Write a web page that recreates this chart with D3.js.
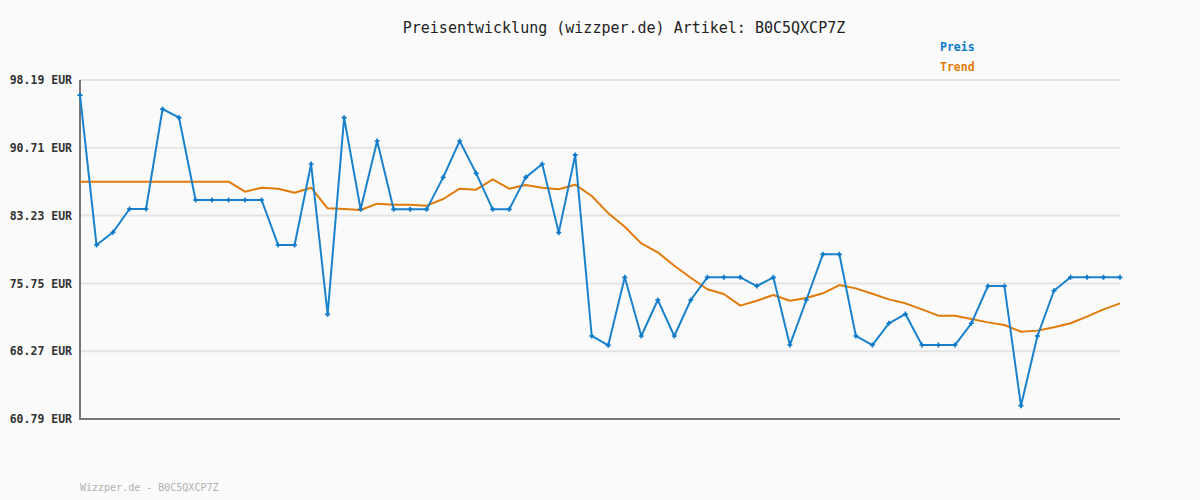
<!DOCTYPE html>
<html><head><meta charset="utf-8">
<script src="https://cdn.jsdelivr.net/npm/d3@7"></script>
<style>body{margin:0;background:#fafafa;}svg{display:block;}</style>
</head><body>
<svg id="c" width="1200" height="500"></svg>
<script>
const titleText = "Preisentwicklung (wizzper.de) Artikel: B0C5QXCP7Z";
const footerText = "Wizzper.de - B0C5QXCP7Z";
const seriesNames = ["Preis", "Trend"];
const yTicks = [60.79, 68.27, 75.75, 83.23, 90.71, 98.19];
const preis = [96.53,79.99,81.39,83.96,83.96,94.99,94.03,84.95,84.95,84.95,84.95,84.95,79.99,79.99,88.92,72.34,
  94.03,83.92,91.46,83.92,83.92,83.92,87.45,91.46,87.89,83.92,83.92,87.45,88.92,81.35,89.92,69.95,
  68.92,76.42,69.95,73.92,69.95,73.92,76.42,76.42,76.42,75.46,76.42,68.95,73.92,78.96,78.96,69.95,
  68.95,71.35,72.37,68.95,68.95,68.95,71.35,75.46,75.46,62.26,69.95,74.94,76.42,76.42,76.42,76.42];
const trend = [86.97,86.97,86.97,86.97,86.97,86.97,86.97,86.97,86.97,86.97,85.87,86.31,86.2,85.76,86.31,84.03,
  83.96,83.85,84.55,84.44,84.44,84.33,85.06,86.2,86.09,87.23,86.2,86.61,86.31,86.13,86.64,85.39,
  83.5,82.0,80.17,79.18,77.7,76.38,75.1,74.58,73.3,73.84,74.47,73.84,74.14,74.66,75.57,75.2,
  74.6,73.99,73.55,72.89,72.19,72.19,71.82,71.45,71.16,70.42,70.54,70.91,71.35,72.08,72.89,73.55];

const svg = d3.select("#c");
const W = 1200, H = 500;
const x0 = 80, x1 = 1120, yTop = 80, yBot = 419;
const blue = "#0a78c8", orange = "#e07b0a";
const mono = "'DejaVu Sans Mono', 'Liberation Mono', monospace";

svg.append("rect").attr("width", W).attr("height", H).attr("fill", "#fafafa");

const x = d3.scaleLinear().domain([0, preis.length - 1]).range([x0, x1]);
const y = d3.scaleLinear().domain([yTicks[0], yTicks[yTicks.length - 1]]).range([yBot, yTop]);

// grid
svg.append("g").selectAll("line").data(yTicks.slice(1)).join("line")
  .attr("x1", x0).attr("x2", x1).attr("y1", d => y(d)).attr("y2", d => y(d))
  .attr("stroke", "#e4e4e4").attr("stroke-width", 2);

// y axis
const yAxis = d3.axisLeft(y).tickValues(yTicks).tickSize(0).tickPadding(8)
  .tickFormat(d => d.toFixed(2) + " EUR");
const ga = svg.append("g").attr("transform", `translate(${x0},0)`).call(yAxis);
ga.select(".domain").remove();
ga.selectAll("text").attr("font-family", mono).attr("font-size", "11.5px")
  .attr("font-weight", "bold").attr("fill", "#333");

// axis lines
svg.append("line").attr("x1", x0).attr("x2", x0).attr("y1", yTop).attr("y2", yBot + 1)
  .attr("stroke", "#777").attr("stroke-width", 2);
svg.append("line").attr("x1", x0 - 1).attr("x2", x1).attr("y1", yBot).attr("y2", yBot)
  .attr("stroke", "#777").attr("stroke-width", 2);

const line = d3.line().x((d, i) => x(i)).y(d => y(d));
svg.append("path").datum(trend).attr("d", line).attr("fill", "none")
  .attr("stroke", orange).attr("stroke-width", 2).attr("stroke-linejoin", "round");
svg.append("path").datum(preis).attr("d", line).attr("fill", "none")
  .attr("stroke", "#1a82cc").attr("stroke-width", 2).attr("stroke-linejoin", "round");

// markers (plus)
const plus = d3.symbol().type(d3.symbolCross).size(14);
svg.append("g").selectAll("path").data(preis).join("path")
  .attr("d", plus).attr("transform", (d, i) => `translate(${x(i)},${y(d)})`)
  .attr("fill", blue);

// title
svg.append("text").attr("x", 624).attr("y", 33).attr("text-anchor", "middle")
  .attr("font-family", mono).attr("font-size", "15px").attr("fill", "#222")
  .text(titleText);

// legend
svg.selectAll(".lg").data(seriesNames).join("text").attr("class", "lg")
  .attr("x", 940).attr("y", (d, i) => 51 + i * 20)
  .attr("font-family", mono).attr("font-size", "11.5px").attr("font-weight", "bold")
  .attr("fill", (d, i) => i === 0 ? blue : orange).text(d => d);

// footer
svg.append("text").attr("x", 80).attr("y", 491)
  .attr("font-family", mono).attr("font-size", "10px").attr("fill", "#b0b0b0")
  .text(footerText);
</script>
</body></html>
